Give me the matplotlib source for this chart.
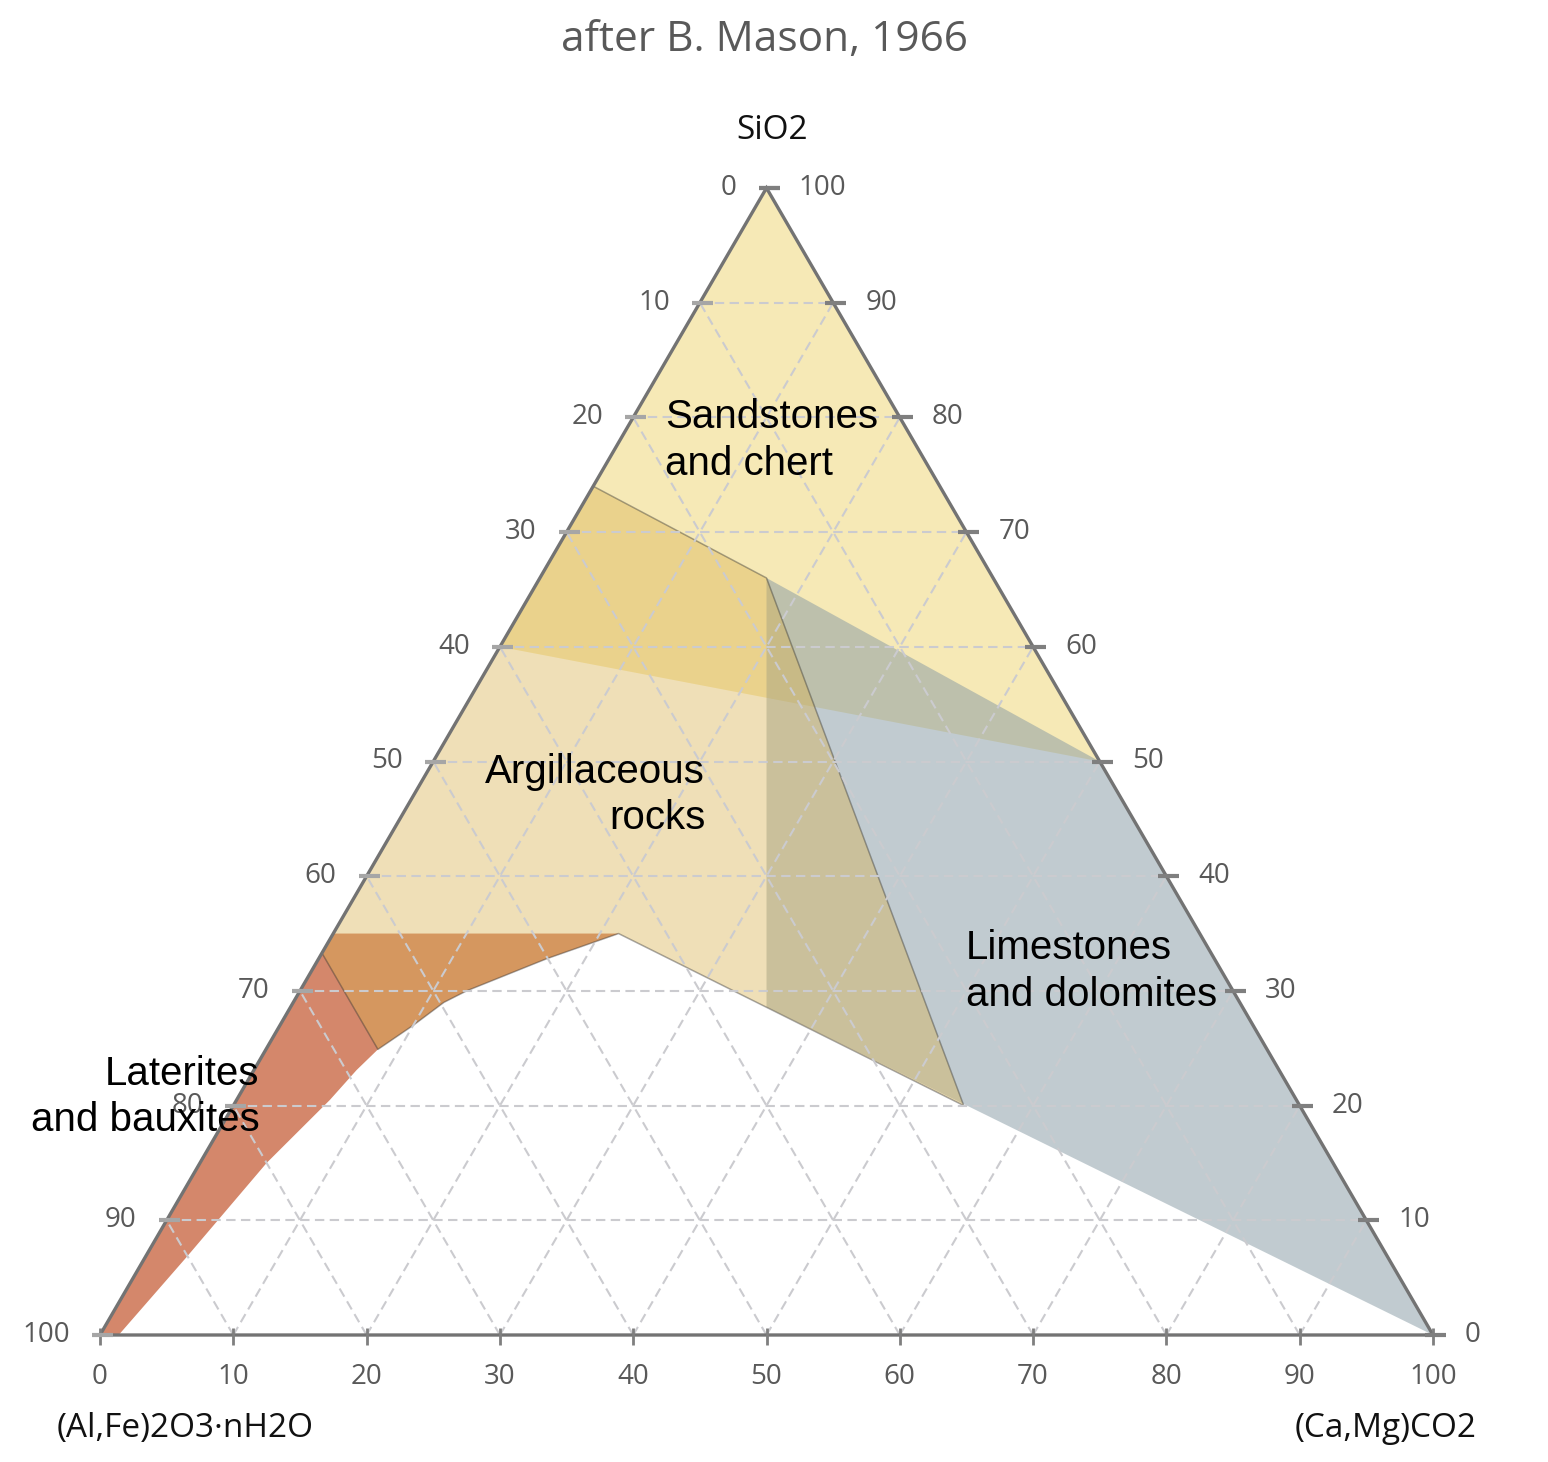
import matplotlib
matplotlib.use("Agg")
import matplotlib.pyplot as plt
from matplotlib.patches import Polygon
import numpy as np

# ---------------- data (percent) ----------------
title = "after B. Mason, 1966"
label_top = "SiO2"
label_left = "(Al,Fe)2O3\u00b7nH2O"
label_right = "(Ca,Mg)CO2"
tick_values = [0, 10, 20, 30, 40, 50, 60, 70, 80, 90, 100]

# c = (Ca,Mg)CO2 %, s = SiO2 %  (remainder = (Al,Fe)2O3·nH2O)
sand_c = [0, 0, 50]
sand_s = [100, 60, 50]

arg_c = [0, 17, 54.8, 21.4, 17.1, 14.8, 12.5, 11.3, 10.0, 8.4, 0]
arg_s = [74, 66, 20.0, 35.0, 32.8, 31.4, 30.0, 29.0, 27.0, 24.9, 33.3]

lime_c = [17, 50, 100, 35.7]
lime_s = [66, 50, 0, 28.6]

lat_c = [0, 0, 21.4, 17.1, 14.8, 12.5, 11.3, 10.0, 8.4, 7.7, 7.0, 5.0, 3.1, 1.4]
lat_s = [0, 35, 35.0, 32.8, 31.4, 30.0, 29.0, 27.0, 24.9, 23.1, 20.5, 15.0, 6.8, 0]

region_names = ["Sandstones\nand chert", "Argillaceous\nrocks",
                "Limestones\nand dolomites", "Laterites\nand bauxites"]
# label anchor positions (c %, s %)
region_label_c = [3.4, 21.85, 49.1, 1.6]
region_label_s = [78.0, 47.1, 31.7, 20.75]
region_label_ha = ["left", "right", "left", "right"]


def tern(c, s):
    c = np.asarray(c, dtype=float) / 100.0
    s = np.asarray(s, dtype=float) / 100.0
    return c + s / 2.0, s


W, H = 1548, 1462
fig = plt.figure(figsize=(W / 100, H / 100), dpi=100)
ax = fig.add_axes([100 / W, (H - 1335) / H, 1333 / W, 1147 / H])
ax.set_xlim(0, 1)
ax.set_ylim(0, 1)
ax.axis("off")
px = 1.0 / 1333
py = 1.0 / 1147

# ---------------- regions ----------------
def add_region(cc, ss, face, edge=None, lw=0.0, z=1):
    x, y = tern(cc, ss)
    poly = Polygon(np.column_stack([x, y]), closed=True, facecolor=face,
                   edgecolor=edge if edge is not None else "none", linewidth=lw,
                   zorder=z, clip_on=False, joinstyle="round")
    ax.add_patch(poly)

add_region(lat_c, lat_s, (194/255, 84/255, 44/255, 0.70), z=1)
add_region(sand_c, sand_s, (239/255, 213/255, 111/255, 0.50), z=2)
add_region(lime_c, lime_s, (133/255, 153/255, 163/255, 0.50), z=3)
add_region(arg_c, arg_s, (217/255, 177/255, 77/255, 0.40),
           edge=(0.2, 0.2, 0.2, 0.42), lw=1.1, z=4)

# ---------------- grid ----------------
grid_kw = dict(color="#cbcbcf", lw=1.5, dashes=(4.5, 2.6), zorder=5, clip_on=False)
for k in range(10, 100, 10):
    # constant SiO2
    x, y = tern([0, 100 - k], [k, k]); ax.plot(x, y, **grid_kw)
    # constant (Ca,Mg)CO2
    x, y = tern([k, k], [0, 100 - k]); ax.plot(x, y, **grid_kw)
    # constant (Al,Fe)2O3
    x, y = tern([100 - k, 0], [0, 100 - k]); ax.plot(x, y, **grid_kw)

# ---------------- triangle ----------------
x, y = tern([0, 100, 0, 0], [0, 0, 100, 0])
ax.plot(x, y, color="#737373", lw=2.4, zorder=6, clip_on=False,
        solid_joinstyle="miter")

# ---------------- ticks & labels ----------------
tick_font = dict(fontsize=20, color="#595959", family="Open Sans", zorder=8)
for k in tick_values:
    # right axis (SiO2)
    x0, y0 = tern(100 - k, k)
    ax.plot([x0 - 8 * px, x0 + 13 * px], [y0, y0], color="#7f7f7f", lw=3,
            solid_capstyle="butt", zorder=7, clip_on=False)
    ax.text(x0 + 32 * px, y0, str(k), ha="left", va="center", **tick_font)
    # left axis ((Al,Fe)2O3)
    x0, y0 = tern(0, 100 - k)
    ax.plot([x0 - 8 * px, x0 + 13 * px], [y0, y0], color="#a6a6a6", lw=3,
            solid_capstyle="butt", zorder=7, clip_on=False)
    ax.text(x0 - 30 * px, y0, str(k), ha="right", va="center", **tick_font)
    # bottom axis ((Ca,Mg)CO2)
    x0, y0 = tern(k, 0)
    ax.plot([x0, x0], [y0 + 7 * py, y0 - 10 * py], color="#7f7f7f", lw=2,
            solid_capstyle="butt", zorder=7, clip_on=False)
    ax.text(x0, y0 - 42 * py, str(k), ha="center", va="center", **tick_font)

# ---------------- axis titles ----------------
lab_font = dict(fontsize=24, color="#111111", family="Open Sans", zorder=8)
ax.text(0.504, 1.0497, label_top, ha="center", va="center", **lab_font)
ax.text(0.0638, -0.0811, label_left, ha="center", va="center", **lab_font)
ax.text(0.9647, -0.0811, label_right, ha="center", va="center", **lab_font)

fig.text(764 / W, 1 - 40 / H, title, ha="center", va="center", fontsize=30.5,
         color="#595959", family="Open Sans")

# ---------------- region labels ----------------
for name, cc, ss, ha in zip(region_names, region_label_c, region_label_s, region_label_ha):
    x, y = tern(cc, ss)
    ax.text(x, y, name, ha=ha, va="center", multialignment=ha, fontsize=29,
            family="Liberation Sans", color="black", linespacing=1.28, zorder=9)

fig.savefig("out.png", dpi=100)
